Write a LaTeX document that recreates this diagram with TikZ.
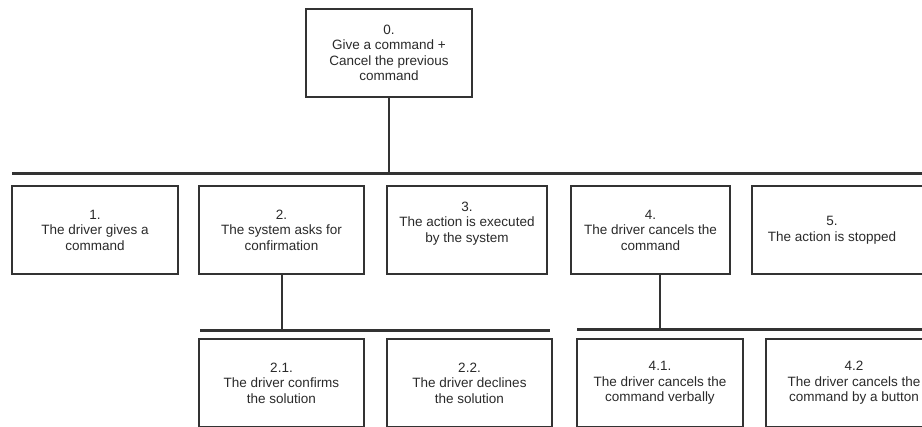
\documentclass[tikz,border=0pt]{standalone}
\usepackage{fontspec}
\setmainfont{Liberation Sans}
\definecolor{ln}{HTML}{333333}
\definecolor{tx}{HTML}{2A2A2A}
\begin{document}
\begin{tikzpicture}[x=1bp,y=-1bp,
  box/.style={draw=ln,line width=2bp,fill=white,minimum width=#1,minimum height=88bp,
    inner sep=0pt,align=center,text=tx,font=\fontsize{13.5bp}{15.5bp}\selectfont},
  box/.default=166bp,
  lbl/.style={inner sep=0pt,align=center,text=tx,font=\fontsize{13.5bp}{15.5bp}\selectfont},
  bus/.style={draw=ln,line width=2.6bp},
  link/.style={draw=ln,line width=2bp}]
\useasboundingbox (0,0) rectangle (922,426);
\clip (0,0) rectangle (922,426);
% top
\node[box] (n0) at (389,53) {0.\\Give a command +\\Cancel the previous\\command};
% row 1
\node[box=166bp] (n1) at (95,230) {1.\\The driver gives a\\command};
\node[box=165bp] (n2) at (281.5,230) {2.\\The system asks for\\confirmation};
\node[box=160bp] (n3) at (467,230) {3.\\The action is executed\\by the system\\\mbox{}};
\node[box=159bp] (n4) at (650.5,230) {4.\\The driver cancels the\\command};
\node[box=200bp] (n5) at (852,230) {};
\node[lbl] (t5) at (832,230) {5.\\The action is stopped};
% row 2
\node[box=165bp] (n21) at (281.5,383) {2.1.\\The driver confirms\\the solution};
\node[box=165bp] (n22) at (469.5,383) {2.2.\\The driver declines\\the solution};
\node[box=166bp] (n41) at (660,383) {4.1.\\The driver cancels the\\command verbally};
\node[box=176bp] (n42) at (854,383) {4.2\\The driver cancels the\\command by a button};
% buses
\coordinate (b0l) at (12,173.5);
\coordinate (b0r) at (930,173.5);
\coordinate (b2l) at (200,330.5);
\coordinate (b2r) at (550,330.5);
\coordinate (b4l) at (577,329.5);
\coordinate (b4r) at (930,329.5);
\draw[bus] (b0l) -- (b0r);
\draw[bus] (b2l) -- (b2r);
\draw[bus] (b4l) -- (b4r);
\draw[link] (n0.south) -- (n0.south |- b0l);
\draw[link] (n2.south) -- (n2.south |- b2l);
\draw[link] ([xshift=9.5bp]n4.south) -- ([xshift=9.5bp]n4.south |- b4l);
\end{tikzpicture}
\end{document}
